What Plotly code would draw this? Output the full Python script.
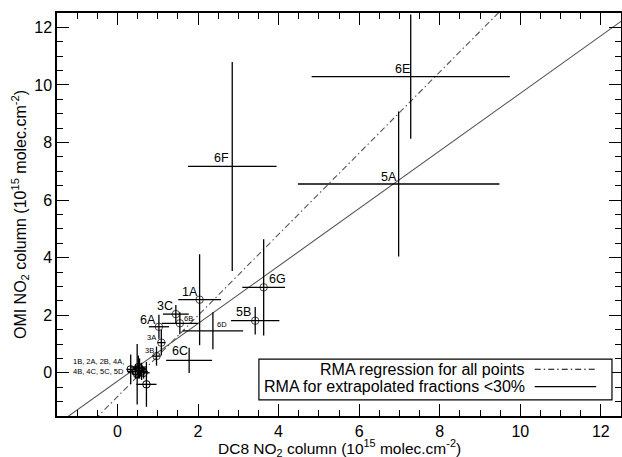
import plotly.graph_objects as go

# ---------------- data ----------------
labels = ["6F", "6E", "5A", "1A", "6G", "5B", "3C", "6B", "6D", "6A", "3A", "3B", "6C"]
dc8 = [2.85, 7.28, 6.98, 2.04, 3.63, 3.42, 1.45, 1.55, 2.37, 1.03, 1.09, 0.97, 1.78]
omi = [7.17, 10.29, 6.56, 2.54, 2.97, 1.81, 2.04, 1.72, 1.46, 1.60, 1.05, 0.58, 0.43]
dc8_err = [1.10, 2.46, 2.50, 0.53, 0.53, 0.60, 0.32, 0.45, 0.75, 0.25, 0.10, 0.10, 0.57]
omi_err = [3.63, 2.16, 2.52, 1.58, 1.67, 0.48, 0.32, 0.38, 0.64, 0.42, 0.45, 0.33, 0.44]
circled = [False, False, False, True, True, True, True, True, False, True, True, True, False]

cluster_labels = ["1B", "2A", "2B", "4A", "4B", "4C", "5C", "5D"]
cluster_dc8 = [0.33, 0.49, 0.72, 0.55, 0.45, 0.60, 0.52, 0.65]
cluster_omi = [0.12, -0.05, -0.40, 0.15, 0.05, 0.05, 0.20, 0.00]
cluster_dc8_err = [0.10, 0.12, 0.25, 0.15, 0.20, 0.15, 0.20, 0.15]
cluster_omi_err = [0.52, 1.05, 0.78, 0.35, 0.25, 0.30, 0.40, 0.20]

# RMA regressions (slope, intercept)
rma_all = (1.41, -0.83)
rma_30 = (1.00, -0.29)

x_range = [-1.5, 12.5]
y_range = [-1.5, 12.5]
x_ticks = [0, 2, 4, 6, 8, 10, 12]
y_ticks = [0, 2, 4, 6, 8, 10, 12]

x_title = "DC8 NO<sub>2</sub> column (10<sup>15</sup> molec.cm<sup>-2</sup>)"
y_title = "OMI NO<sub>2</sub> column (10<sup>15</sup> molec.cm<sup>-2</sup>)"

# label styling (pixel offsets, font size)
label_dx = [-11, -8, -10, -10, 14, -12, -11, 9, 9, -11, -10, -7, -9]
label_dy = [8, 8, 7, 8, 8, 9, 8, 5, 6, 7, 5, 6, 9]
label_small = [False, False, False, False, False, False, False, True, True, False, True, True, False]

FONT = "Liberation Sans, Arial, Helvetica, sans-serif"

fig = go.Figure()

# regression lines
xl = list(x_range)
fig.add_trace(go.Scatter(
    x=xl, y=[rma_all[0] * v + rma_all[1] for v in xl], mode="lines",
    line=dict(color="#555555", width=1.1, dash="6px,3px,1.5px,3px"),
    showlegend=False, hoverinfo="skip"))
fig.add_trace(go.Scatter(
    x=xl, y=[rma_30[0] * v + rma_30[1] for v in xl], mode="lines",
    line=dict(color="#555555", width=1.1),
    showlegend=False, hoverinfo="skip"))

# main points
fig.add_trace(go.Scatter(
    x=dc8, y=omi, mode="markers",
    marker=dict(symbol="circle-open", size=[7.5 if c else 0 for c in circled],
                color="black", line=dict(width=1, color="black")),
    error_x=dict(type="data", array=dc8_err, color="black", thickness=1.3, width=0),
    error_y=dict(type="data", array=omi_err, color="black", thickness=1.3, width=0),
    showlegend=False))

# cluster points
fig.add_trace(go.Scatter(
    x=cluster_dc8, y=cluster_omi, mode="markers",
    marker=dict(symbol="circle-open", size=7.5, color="black", line=dict(width=1, color="black")),
    error_x=dict(type="data", array=cluster_dc8_err, color="black", thickness=1.3, width=0),
    error_y=dict(type="data", array=cluster_omi_err, color="black", thickness=1.3, width=0),
    showlegend=False))

# point labels
for lab, xv, yv, dx, dy, sm in zip(labels, dc8, omi, label_dx, label_dy, label_small):
    fig.add_annotation(x=xv, y=yv, text=lab, showarrow=False,
                       xanchor="center", yanchor="middle", xshift=dx, yshift=dy,
                       font=dict(family=FONT, size=7.5 if sm else 12.5, color="black"))

# cluster label
half = len(cluster_labels) // 2
fig.add_annotation(
    x=min(cluster_dc8), y=max(cluster_omi), xanchor="right", yanchor="middle",
    xshift=-5, yshift=1, showarrow=False, align="left",
    text=", ".join(cluster_labels[:half]) + ",<br>" + ", ".join(cluster_labels[half:]),
    font=dict(family=FONT, size=7.5, color="black"))

# legend (custom box with samples on the right)
fig.add_shape(type="rect", xref="paper", yref="paper", x0=0.358, x1=0.984, y0=0.040, y1=0.141,
              line=dict(color="black", width=1.2), fillcolor="white", layer="above")
legend_items = [("RMA regression for all points", "6px,3px,1.5px,3px", 0.116),
                ("RMA for extrapolated fractions <30%", "solid", 0.073)]
for txt, dash, yy in legend_items:
    fig.add_annotation(xref="paper", yref="paper", x=0.831, y=yy, text=txt, showarrow=False,
                       xanchor="right", yanchor="middle", borderpad=0,
                       font=dict(family=FONT, size=16, color="black"))
    fig.add_shape(type="line", xref="paper", yref="paper", x0=0.847, x1=0.956, y0=yy, y1=yy,
                  line=dict(color="black", width=1.2, dash=dash), layer="above")

# x-axis title as annotation (exact placement)
fig.add_annotation(xref="paper", yref="paper", x=0.5, y=-0.080, text=x_title, showarrow=False,
                   xanchor="center", yanchor="middle", borderpad=0,
                   font=dict(family=FONT, size=15.5, color="black"))

axis_common = dict(
    showline=True, linecolor="black", linewidth=1.5, mirror="allticks",
    ticks="inside", ticklen=12, tickwidth=1.3, tickcolor="black",
    showgrid=False, zeroline=False, automargin=False,
    tickfont=dict(family=FONT, size=16, color="black"),
    minor=dict(dtick=0.5, ticks="inside", ticklen=6, tickwidth=1.3, tickcolor="black", showgrid=False),
)

fig.update_xaxes(range=x_range, tickvals=x_ticks, **axis_common)
fig.update_yaxes(range=y_range, tickvals=y_ticks, **axis_common,
                 title=dict(text=y_title, font=dict(family=FONT, size=16, color="black"), standoff=4))

fig.update_layout(
    width=622, height=457,
    margin=dict(l=57, r=1, t=13, b=41, autoexpand=False),
    plot_bgcolor="white", paper_bgcolor="white",
    showlegend=False,
)

fig.write_html("out.html", config={"displayModeBar": False},
               post_script="document.body.style.margin='0px';document.body.style.padding='0px';document.body.style.overflow='hidden';")
